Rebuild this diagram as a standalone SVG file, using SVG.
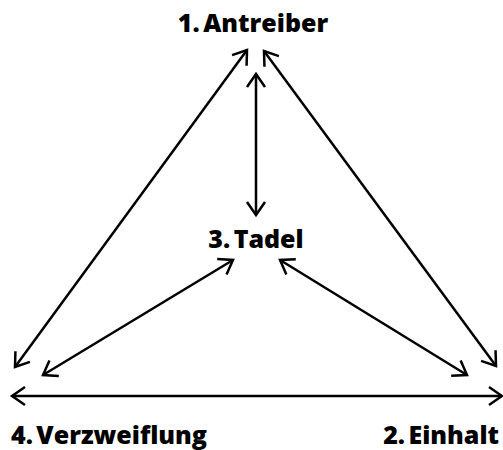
<svg xmlns="http://www.w3.org/2000/svg" width="503" height="450" viewBox="0 0 503 450">
  <style>
    .label { font-family: "Open Sans", "Liberation Sans", sans-serif; font-weight: 800; font-size: 25px; word-spacing: -3px; fill: #000; }
    .conn { stroke: #000; stroke-width: 2.5; fill: none; marker-start: url(#head); marker-end: url(#head); }
  </style>
  <defs>
    <marker id="head" markerUnits="userSpaceOnUse" markerWidth="20" markerHeight="24" viewBox="-16 -12 20 24" refX="0" refY="0" orient="auto-start-reverse">
      <path d="M -13 -9 L 0 0 L -13 9" fill="none" stroke="#000" stroke-width="2.5"/>
    </marker>
  </defs>
  <rect width="503" height="450" fill="#fff"/>

  <g id="connectors">
    <line class="conn" x1="247" y1="50" x2="15" y2="367"/>
    <line class="conn" x1="264" y1="51" x2="496" y2="366"/>
    <line class="conn" x1="256" y1="74" x2="256" y2="215"/>
    <line class="conn" x1="233" y1="260" x2="43" y2="375"/>
    <line class="conn" x1="280" y1="260" x2="467" y2="375"/>
    <line class="conn" x1="12" y1="396" x2="502" y2="396"/>
  </g>

  <g id="antreiber">
    <text class="label" x="253" y="32" text-anchor="middle">1. Antreiber</text>
  </g>
  <g id="tadel">
    <text class="label" x="256" y="248" text-anchor="middle">3. Tadel</text>
  </g>
  <g id="verzweiflung">
    <text class="label" x="11" y="444">4. Verzweiflung</text>
  </g>
  <g id="einhalt">
    <text class="label" x="499" y="444" text-anchor="end">2. Einhalt</text>
  </g>
</svg>
